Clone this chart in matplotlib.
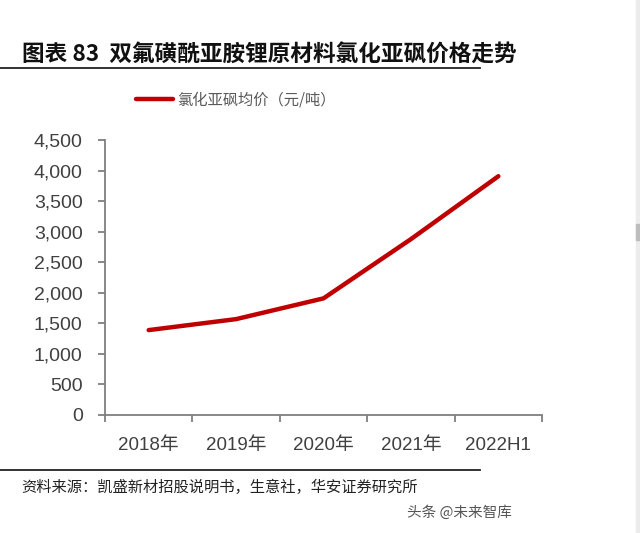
import matplotlib.pyplot as plt
from matplotlib.patches import Rectangle

plt.rcParams['font.family'] = ['Liberation Sans', 'Noto Sans CJK SC', 'DejaVu Sans']
plt.rcParams['axes.unicode_minus'] = False

# 数据
years = ['2018年', '2019年', '2020年', '2021年', '2022H1']
price = [1390, 1570, 1910, 2880, 3910]
yticks = [0, 500, 1000, 1500, 2000, 2500, 3000, 3500, 4000, 4500]

fig = plt.figure(figsize=(6.4, 5.33), dpi=100)
ax = fig.add_axes([0.164, 0.2214, 0.683, 0.5156])

x = list(range(len(years)))
ax.plot(x, price, color='#C00000', linewidth=3.2, solid_capstyle='round',
        solid_joinstyle='round', label='氯化亚砜均价（元/吨）')

# 坐标轴
ax.set_xlim(-0.5, len(years) - 0.5)
ax.set_ylim(0, 4500)
ax.set_yticks(yticks)
ax.set_yticklabels([f'{v:,}' for v in yticks])
ax.set_xticks([i - 0.5 for i in range(len(years) + 1)])
ax.set_xticklabels([])
ax.set_xticks(x, minor=True)
ax.set_xticklabels(years, minor=True)
ax.tick_params(axis='x', which='minor', length=0, pad=16, labelsize=13.5, labelcolor='#404040')
ax.tick_params(axis='x', which='major', length=5, width=1.3, color='#7f7f7f', direction='out')
ax.tick_params(axis='y', length=5, width=1.3, color='#7f7f7f', direction='out',
               labelsize=14, labelcolor='#404040', pad=11)
for s in ['top', 'right']:
    ax.spines[s].set_visible(False)
for s in ['left', 'bottom']:
    ax.spines[s].set_color('#7f7f7f')
    ax.spines[s].set_linewidth(1.3)

ax.legend(loc='center', bbox_to_anchor=(0.30, 1.145), frameon=False,
          handlelength=2.4, handletextpad=0.3,
          prop={'family': ['Noto Sans CJK SC'], 'size': 11}, labelcolor='#595959')

# 标题与来源
fig.text(0.034, 0.897, '图表 83  双氟磺酰亚胺锂原材料氯化亚砜价格走势', fontsize=16.3,
         fontweight='bold', family=['Noto Sans CJK SC'], color='#111111', va='center')
fig.add_artist(plt.Line2D([0, 0.75], [0.872, 0.872], color='#222222', linewidth=1.3))
fig.add_artist(plt.Line2D([0, 0.75], [0.118, 0.118], color='#222222', linewidth=1.3))
fig.text(0.034, 0.086, '资料来源：凯盛新材招股说明书，生意社，华安证券研究所', fontsize=11,
         family=['Noto Sans CJK SC'], color='#222222', va='center')
fig.text(0.80, 0.038, '头条 @未来智库', fontsize=10.5, family=['Noto Sans CJK SC'],
         color='#555555', va='center', ha='right')

# 右侧滚动条
fig.add_artist(Rectangle((0.993, 0), 0.007, 1, transform=fig.transFigure, color='#ececec'))
fig.add_artist(Rectangle((0.993, 0.55), 0.007, 0.03, transform=fig.transFigure, color='#bdbdbd'))

fig.savefig('out.png', dpi=100, facecolor='white')
